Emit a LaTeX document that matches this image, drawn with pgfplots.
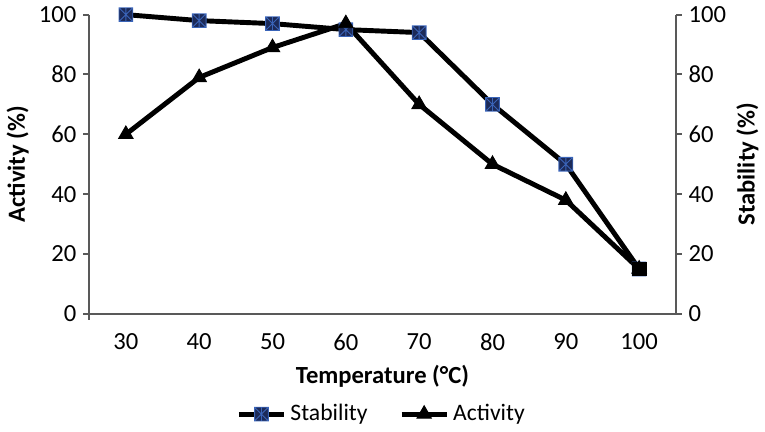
\documentclass[border=0pt]{standalone}
\usepackage{fontspec}
\setmainfont{Carlito}
\usepackage{pgfplots}
\pgfplotsset{compat=1.18}
\definecolor{axgray}{HTML}{595959}
\definecolor{sqnavy}{HTML}{1C2A58}
\definecolor{starblue}{HTML}{3A64B8}
\pgfdeclareplotmark{sqstar}{%
  \pgfpathrectangle{\pgfpoint{-\pgfplotmarksize}{-\pgfplotmarksize}}{\pgfpoint{2\pgfplotmarksize}{2\pgfplotmarksize}}%
  \pgfusepath{fill}%
  \pgfsetstrokecolor{starblue}%
  \pgfsetlinewidth{0.45pt}%
  \pgfpathmoveto{\pgfpoint{-\pgfplotmarksize}{-\pgfplotmarksize}}\pgfpathlineto{\pgfpoint{\pgfplotmarksize}{\pgfplotmarksize}}%
  \pgfpathmoveto{\pgfpoint{-\pgfplotmarksize}{\pgfplotmarksize}}\pgfpathlineto{\pgfpoint{\pgfplotmarksize}{-\pgfplotmarksize}}%
  \pgfpathmoveto{\pgfpoint{0pt}{-\pgfplotmarksize}}\pgfpathlineto{\pgfpoint{0pt}{\pgfplotmarksize}}%
  \pgfpathrectangle{\pgfpoint{-\pgfplotmarksize}{-\pgfplotmarksize}}{\pgfpoint{2\pgfplotmarksize}{2\pgfplotmarksize}}%
  \pgfusepath{stroke}%
}
\begin{document}
\begin{tikzpicture}
\pgfplotsset{
  common/.style={
    width=298pt, height=152pt, scale only axis,
    xmin=-0.5, xmax=7.5, ymin=0, ymax=100,
    ytick={0,20,...,100},
    /pgf/number format/assume math mode=true,
    tick label style={font=\fontsize{12.5}{14}\selectfont, text=black},
    label style={font=\fontsize{12.5}{15}\selectfont\bfseries},
    axis line style={axgray, line width=1pt},
    tick style={axgray, line width=1pt},
    major tick length=3pt,
    tick align=outside,
  }
}
\begin{axis}[common,
  axis x line*=bottom, axis y line*=left,
  xtick={0,...,7}, xticklabels={30,40,50,60,70,80,90,100},
  x tick style={draw=none},
  xticklabel style={yshift=-3.5pt},
  extra x ticks={-0.5}, extra x tick labels={},
  extra x tick style={x tick style={draw=axgray, line width=1pt}},
  xlabel={Temperature (°C)},
  xlabel style={at={(axis description cs:0.5,-0.21)}, anchor=center},
  ylabel={Activity (\%)},
  ylabel style={at={(axis description cs:-0.122,0.5)}, anchor=center},
  legend style={at={(0.5,-0.335)}, anchor=center, draw=none, legend columns=2,
    font=\fontsize{12}{14}\selectfont,
    /tikz/every odd column/.append style={column sep=0pt},
    /tikz/every even column/.append style={column sep=14pt}},
  legend image code/.code={\draw[#1,mark repeat=2,mark phase=2] plot coordinates {(0pt,0pt) (11.5pt,0pt) (23pt,0pt)};},
  clip=false,
]
\addplot[black, line width=2.5pt, mark=sqstar, mark size=3.5pt,
  mark options={fill=sqnavy, solid}]
  coordinates {(0,100) (1,98) (2,97) (3,95) (4,94) (5,70) (6,50) (7,15)};
\addlegendentry{Stability}
\addplot[black, line width=2.5pt, mark=triangle*, mark size=4.2pt,
  mark options={fill=black, solid, line width=0.5pt}]
  coordinates {(0,60) (1,79) (2,89) (3,97) (4,70) (5,50) (6,38) (7,15)};
\addlegendentry{Activity}
\addplot[black, only marks, mark=square*, mark size=3.5pt, forget plot]
  coordinates {(7,15)};
\end{axis}
\begin{axis}[common,
  axis x line=none, axis y line*=right,
  ylabel={Stability (\%)},
  ylabel style={at={(axis description cs:1.122,0.5)}, anchor=center},
]
\end{axis}
\end{tikzpicture}
\end{document}
